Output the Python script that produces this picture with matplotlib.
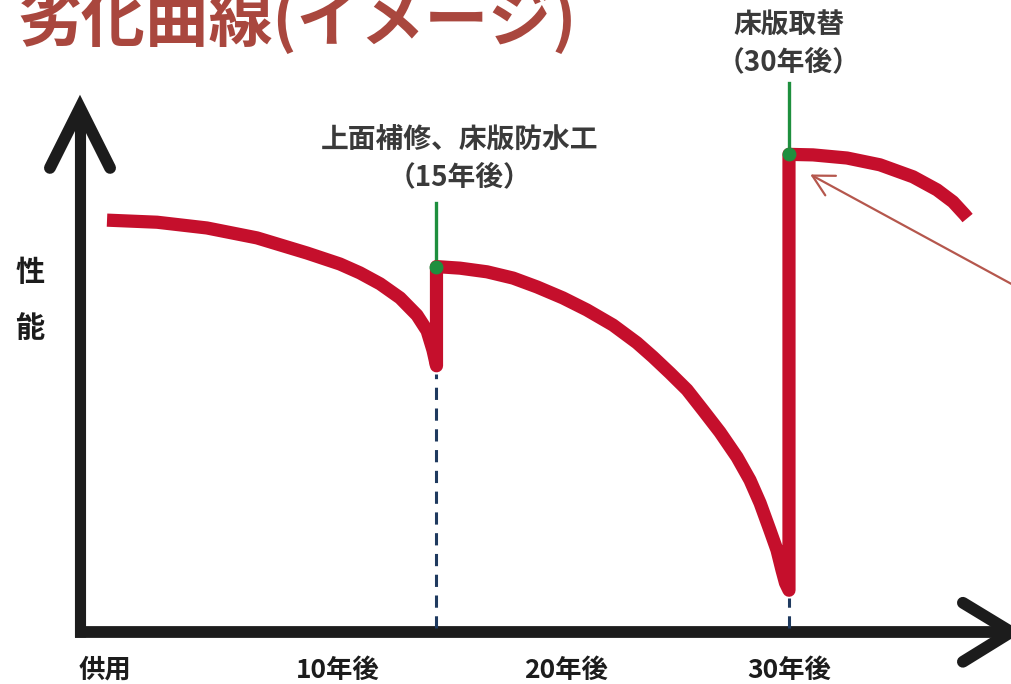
import matplotlib.pyplot as plt

plt.rcParams['font.family'] = ['Noto Sans CJK JP', 'DejaVu Sans']

# performance curve (years, performance)
years_1 = [0.98, 3.11, 5.23, 7.36, 9.49, 10.89, 11.74, 12.6, 13.45, 14.17, 14.6, 14.85, 15.0, 15.0]
perf_1 = [78.9, 78.5, 77.4, 75.5, 72.6, 70.5, 68.8, 66.7, 64.0, 60.7, 57.7, 54.0, 51.0, 70.0]
years_2 = [15.0, 16.0, 17.15, 18.26, 19.28, 20.38, 21.4, 22.51, 23.53, 24.21, 24.94,
           25.66, 26.34, 27.06, 27.79, 28.34, 28.77, 29.19, 29.49, 29.7, 29.85, 30.0, 30.0]
perf_2 = [70.0, 69.7, 69.0, 67.8, 66.1, 64.0, 61.7, 58.8, 55.4, 52.7, 49.6,
          46.4, 42.5, 38.3, 33.5, 29.1, 24.7, 19.5, 15.7, 11.9, 9.4, 8.0, 91.5]
years_3 = [30.0, 31.02, 32.47, 33.87, 35.28, 36.3, 36.98, 37.49, 37.6]
perf_3 = [91.5, 91.4, 90.8, 89.5, 87.2, 84.7, 82.4, 79.9, 79.3]

# repairs
repair_years = [15.0, 30.0]
repair_perf = [70.0, 91.5]
repair_low = [51.0, 8.0]
repair_mark_top = [82.2, 105.2]
repair_names = ["上面補修、床版防水工", "床版取替"]
repair_when = ["（15年後）", "（30年後）"]
repair_text_x = [16.0, 30.0]
repair_text_y = [94.3, 116.3]

tick_pos = [0.9, 10.8, 20.5, 30.0]
tick_labels = ["供用", "10年後", "20年後", "30年後"]

red = "#c50f2c"
green = "#1e8f3e"
navy = "#1f3a5f"
ink = "#1c1c1c"

fig = plt.figure(figsize=(10.12, 6.84), dpi=100)
ax = fig.add_axes([0, 0, 1, 1])
ax.set_xlim(-3.574, 39.49)
ax.set_ylim(-9.96, 121.07)
ax.axis("off")

# axes with arrow heads
ax.plot([-0.17, -0.17], [-1.0, 99.5], color=ink, lw=8, solid_capstyle="butt")
ax.plot([-1.45, -0.17, 1.11], [88.9, 100.4, 88.9], color=ink, lw=8.5,
        solid_capstyle="round", solid_joinstyle="miter")
ax.plot([-0.4, 39.0], [0, 0], color=ink, lw=8.5, solid_capstyle="butt")
ax.plot([37.4, 39.45, 37.4], [5.6, 0, -5.7], color=ink, lw=8.5,
        solid_capstyle="round", solid_joinstyle="miter")

# dashed guides down to the time axis
for x, low in zip(repair_years, repair_low):
    ax.plot([x, x], [0.8, low - 1.5], color=navy, lw=2.2, dashes=(4, 2.8))

# green marks for repairs
for x, p, top in zip(repair_years, repair_perf, repair_mark_top):
    ax.plot([x, x], [p, top], color=green, lw=2.4)

ax.plot(years_1 + years_2[1:] + years_3[1:], perf_1 + perf_2[1:] + perf_3[1:],
        color=red, lw=9.5, solid_capstyle="butt", solid_joinstyle="round")
ax.plot(repair_years, repair_perf, "o", color=green, ms=9, zorder=5)

for name, when, x, y in zip(repair_names, repair_when, repair_text_x, repair_text_y):
    ax.text(x, y, name, ha="center", va="center", fontsize=20,
            fontweight="bold", color="#3a3a3a")
    ax.text(x, y - 7.1, when, ha="center", va="center", fontsize=20,
            fontweight="bold", color="#3a3a3a")

for x, lab in zip(tick_pos, tick_labels):
    ax.text(x, -7.3, lab, ha="center", va="center", fontsize=19,
            fontweight="bold", color=ink)

ax.text(-2.3, 69.0, "性", ha="center", va="center", fontsize=21, fontweight="bold", color=ink)
ax.text(-2.3, 58.2, "能", ha="center", va="center", fontsize=21, fontweight="bold", color=ink)

# pointer arrow coming in from the right edge
ax.annotate("", xy=(30.8, 87.9), xytext=(39.7, 66.1),
            arrowprops=dict(arrowstyle="->,head_length=0.75,head_width=0.4",
                            color="#b5574d", lw=1.6, mutation_scale=20))

fig.text(17 / 1012, 1 - 41 / 684, "劣化曲線(イメージ)", ha="left", va="baseline",
         fontsize=46, fontweight="bold", color="#a9473e")

fig.savefig("out.png", dpi=100)
